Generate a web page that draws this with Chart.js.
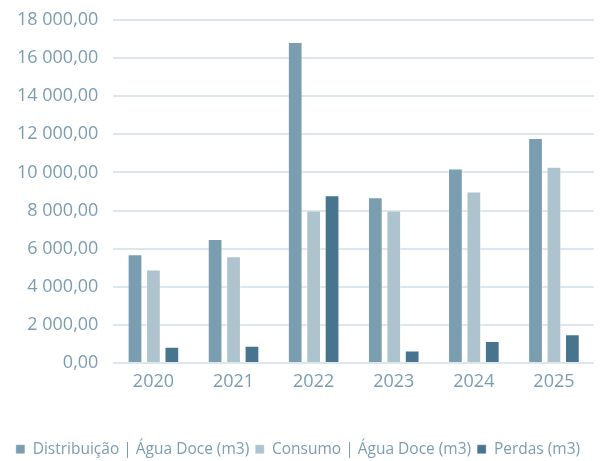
<!DOCTYPE html>
<html>
<head>
<meta charset="utf-8">
<style>
  html, body { margin: 0; padding: 0; background: #fff; }
  #wrap { width: 603px; height: 461px; }
</style>
</head>
<body>
<div id="wrap"><canvas id="chart"></canvas></div>

<script src="https://cdn.jsdelivr.net/npm/chart.js"></script>

<script>
    const years = ['2020', '2021', '2022', '2023', '2024', '2025']
    const distribuicao = [5700, 6500, 16850, 8700, 10200, 11800]
    const consumo = [4900, 5600, 8000, 8000, 9000, 10300]
    const perdas = [850, 900, 8800, 650, 1150, 1500]
    const yTicks = [0, 2000, 4000, 6000, 8000, 10000, 12000, 14000, 16000, 18000]

    const textColor = '#7b9db0'
    const fontFamily = "'Open Sans', 'Noto Sans', sans-serif"

    function fmt(v) {
        const [int, dec] = Number(v).toFixed(2).split('.')
        return int.replace(/\B(?=(\d{3})+(?!\d))/g, ' ') + ',' + dec
    }

    function dataset(label, data, color) {
        return {
            label,
            data,
            backgroundColor: color,
            borderColor: 'rgba(255,255,255,0.35)',
            borderWidth: 1,
            categoryPercentage: 0.69,
            barPercentage: 0.8
        }
    }

    const ctx = document.getElementById('chart')
    new Chart(ctx, {
        type: 'bar',
        data: {
            labels: years,
            datasets: [
                dataset('Distribuição | Água Doce (m3)', distribuicao, '#7a9db0'),
                dataset('Consumo | Água Doce (m3)', consumo, '#adc3ce'),
                dataset('Perdas (m3)', perdas, '#47758e')
            ]
        },
        options: {
            responsive: true,
            maintainAspectRatio: false,
            animation: false,
            layout: { padding: { left: 2, right: 9, top: 20, bottom: -6 } },
            plugins: {
                tooltip: { enabled: false },
                legend: {
                    position: 'bottom',
                    labels: {
                        color: textColor,
                        font: { family: fontFamily, size: 15.5 },
                        boxWidth: 9,
                        boxHeight: 9,
                        padding: 6
                    }
                }
            },
            scales: {
                x: {
                    grid: { display: false },
                    border: { display: false },
                    ticks: {
                        color: textColor,
                        font: { family: fontFamily, size: 18 },
                        padding: 0
                    },
                    afterFit(scale) { scale.height += 43 }
                },
                y: {
                    min: 0,
                    max: 18000,
                    afterBuildTicks(scale) { scale.ticks = yTicks.map(v => ({ value: v })) },
                    afterFit(scale) { scale.paddingTop = 0 },
                    grid: { color: '#dde6ea', lineWidth: 2, drawTicks: false },
                    border: { display: false },
                    ticks: {
                        color: textColor,
                        font: { family: fontFamily, size: 18 },
                        padding: 15,
                        callback: v => fmt(v)
                    }
                }
            }
        }
    })
</script>
</body>
</html>
